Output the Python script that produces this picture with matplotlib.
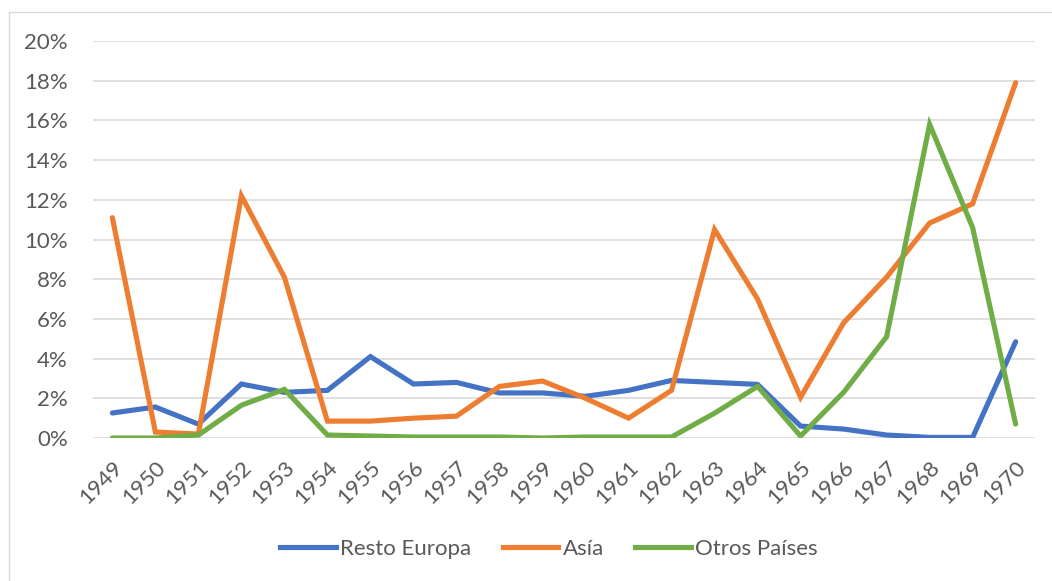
import matplotlib
matplotlib.use("Agg")
import matplotlib.pyplot as plt
from matplotlib.lines import Line2D
from matplotlib.ticker import FuncFormatter

years = [str(y) for y in range(1949, 1971)]
resto_europa = [1.26, 1.56, 0.70, 2.72, 2.30, 2.40, 4.10, 2.72, 2.80, 2.27, 2.27,
                2.10, 2.40, 2.90, 2.80, 2.70, 0.60, 0.45, 0.15, 0.03, 0.03, 4.85]
asia = [11.1, 0.30, 0.20, 12.2, 8.10, 0.85, 0.85, 1.00, 1.10, 2.60, 2.87,
        2.00, 1.00, 2.40, 10.5, 7.00, 2.05, 5.80, 8.10, 10.83, 11.8, 17.9]
otros_paises = [0.0, 0.0, 0.15, 1.65, 2.45, 0.15, 0.10, 0.05, 0.05, 0.05, 0.0,
                0.05, 0.05, 0.05, 1.25, 2.60, 0.10, 2.30, 5.10, 15.8, 10.6, 0.70]
series_names = ["Resto Europa", "Asía", "Otros Países"]
colors = ["#4472C4", "#ED7D31", "#70AD47"]

plt.rcParams['font.family'] = ['Lato', 'DejaVu Sans']

W, H = 1052, 581
fig = plt.figure(figsize=(W / 100, H / 100), dpi=100)
ax = fig.add_axes([93 / W, 1 - 438 / H, (1035 - 93) / W, (438 - 41) / H])

x = list(range(len(years)))
for vals, name, c in zip([resto_europa, asia, otros_paises], series_names, colors):
    ax.plot(x, [v / 100 for v in vals], color=c, lw=3.7, label=name,
            solid_joinstyle='miter', solid_capstyle='round')

ax.set_xlim(-0.45, len(years) - 1 + 0.45)
ax.set_ylim(0, 0.20)
ax.set_yticks([i / 100 for i in range(0, 21, 2)])
ax.yaxis.set_major_formatter(FuncFormatter(lambda v, p: f"{v * 100:.0f}%"))
ax.set_xticks(x)
ax.set_xticklabels(years, rotation=45, ha='right', rotation_mode='anchor')
ax.grid(axis='y', color='#D9D9D9', lw=1.2)
ax.set_axisbelow(True)
for s in ax.spines.values():
    s.set_visible(False)
ax.tick_params(axis='both', length=0, labelsize=16, labelcolor='#595959')
ax.tick_params(axis='y', pad=18)
ax.tick_params(axis='x', pad=14)

handles = [Line2D([0], [0], color=c, lw=3.7) for c in colors]
fig.legend(handles, series_names, loc='center', bbox_to_anchor=(549 / W, 1 - 549 / H),
           ncol=3, frameon=False, fontsize=16, labelcolor='#595959',
           handlelength=2.5, handletextpad=0.2, columnspacing=1.4)

# chart border
fig.add_artist(Line2D([9.5 / W, 9.5 / W], [0, 1 - 11.5 / H], color='#D9D9D9', lw=1,
                      transform=fig.transFigure))
fig.add_artist(Line2D([9.5 / W, 1], [1 - 11.5 / H, 1 - 11.5 / H], color='#D9D9D9', lw=1,
                      transform=fig.transFigure))

fig.savefig("out.png", dpi=100)
